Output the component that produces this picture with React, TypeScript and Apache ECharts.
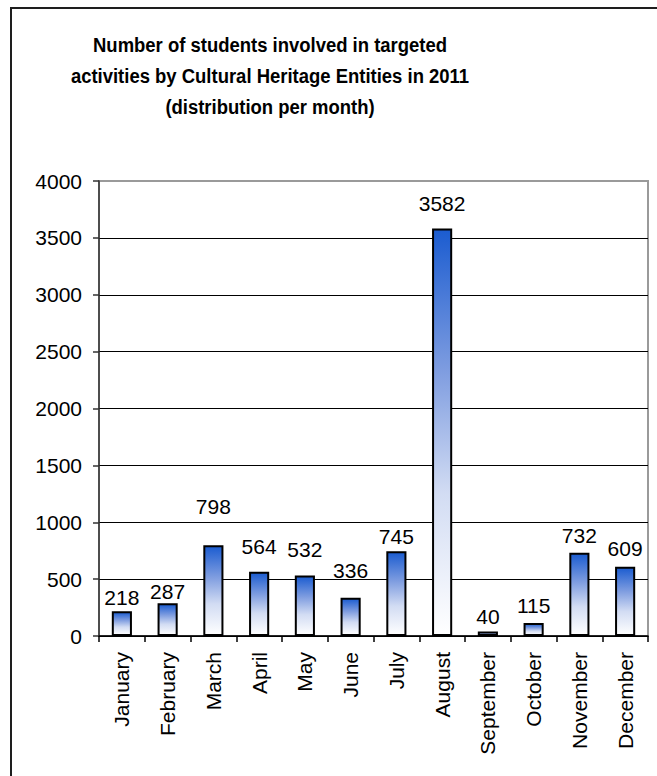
import React, { useEffect, useRef } from "react";
import * as echarts from "echarts";

const months = [
  "January", "February", "March", "April", "May", "June",
  "July", "August", "September", "October", "November", "December",
];
const students = [218, 287, 798, 564, 532, 336, 745, 3582, 40, 115, 732, 609];
// gap (px) between each value label and its bar top, as placed in the original
const labelGaps = [3, 1, 28, 15, 15, 17, 4, 15, 4, 7, 7, 8];
const yMin = 0;
const yMax = 4000;
const yStep = 500;
const titleLines = [
  "Number of students involved in targeted",
  "activities by Cultural Heritage Entities in 2011",
  "(distribution per month)",
];

const FONT = '"Liberation Sans", Arial, sans-serif';

export default function App() {
  const ref = useRef<HTMLDivElement>(null);
  useEffect(() => {
    if (!ref.current) return;
    const chart = echarts.init(ref.current, null, { renderer: "svg" });
    const nTicks = (yMax - yMin) / yStep + 1;
    const splitColors = Array.from({ length: nTicks }, (_, i) =>
      i === nTicks - 1 ? "#9a9a9a" : "#000000"
    );
    chart.setOption({
      animation: false,
      backgroundColor: "#ffffff",
      textStyle: { fontFamily: FONT },
      graphic: [
        {
          type: "rect",
          silent: true,
          z: -10,
          shape: { x: 11, y: 8, width: 900, height: 900 },
          style: { fill: "none", stroke: "#1e1e1e", lineWidth: 2 },
        },
        {
          type: "text",
          x: 270,
          y: 29,
          scaleX: 0.88,
          style: {
            text: titleLines.join("\n"),
            font: `bold 21px ${FONT}`,
            fill: "#000",
            textAlign: "center",
            textVerticalAlign: "top",
            lineHeight: 31,
          },
        },
      ],
      grid: {
        left: 99,
        top: 181,
        right: 9,
        bottom: 140,
        show: true,
        borderColor: "#9a9a9a",
        borderWidth: 2,
        backgroundColor: "transparent",
      },
      xAxis: {
        type: "category",
        data: months,
        axisLine: { show: true, lineStyle: { color: "#000", width: 1.5 } },
        axisTick: { show: true, length: 6, lineStyle: { color: "#000", width: 1.5 } },
        axisLabel: {
          rotate: 90,
          margin: 16,
          fontSize: 21,
          color: "#000",
          fontFamily: FONT,
          interval: 0,
        },
      },
      yAxis: {
        type: "value",
        min: yMin,
        max: yMax,
        interval: yStep,
        axisLine: { show: true, lineStyle: { color: "#333", width: 1.5 } },
        axisTick: { show: true, length: 6, lineStyle: { color: "#333", width: 1.5 } },
        axisLabel: {
          margin: 17,
          fontSize: 21,
          color: "#000",
          fontFamily: FONT,
          formatter: (v: number) => String(v),
        },
        splitLine: { show: true, lineStyle: { color: splitColors, width: 1.2 } },
      },
      series: [
        {
          type: "bar",
          barWidth: "44%",
          data: students.map((v, i) => ({
            value: v,
            label: { distance: labelGaps[i] },
          })),
          itemStyle: {
            borderColor: "#000",
            borderWidth: 2,
            color: new echarts.graphic.LinearGradient(0, 0, 0, 1, [
              { offset: 0, color: "#1b5cd0" },
              { offset: 0.35, color: "#7f9de0" },
              { offset: 0.65, color: "#d2dcf3" },
              { offset: 1, color: "#ffffff" },
            ]),
          },
          label: {
            show: true,
            position: "top",
            fontSize: 21,
            color: "#000",
            fontFamily: FONT,
          },
        },
      ],
    });
    return () => chart.dispose();
  }, []);
  return (
    <div
      ref={ref}
      style={{ position: "absolute", left: 0, top: 0, width: 657, height: 776 }}
    />
  );
}
